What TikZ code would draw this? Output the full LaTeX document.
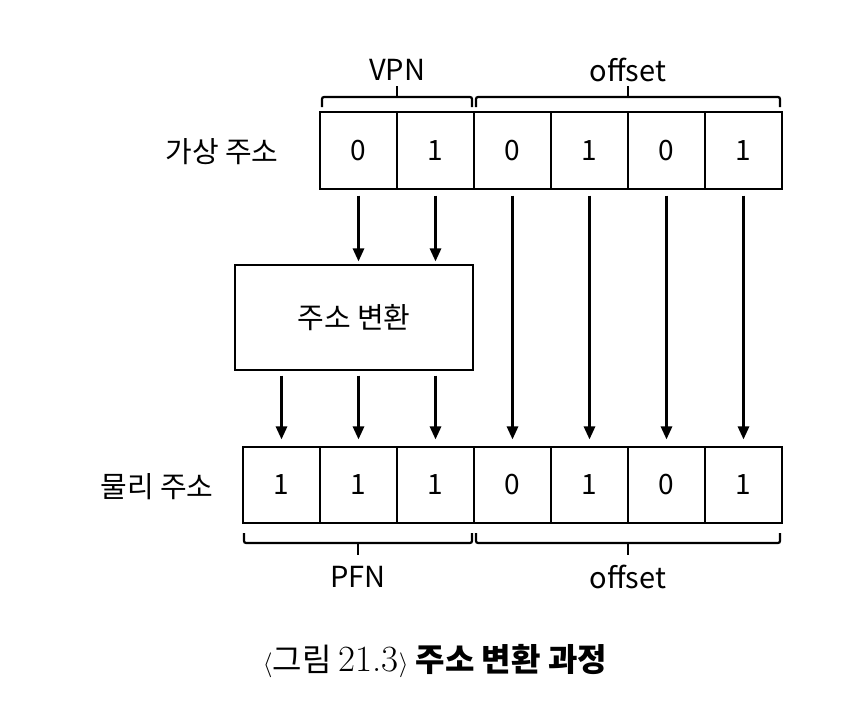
\documentclass[tikz,border=0pt]{standalone}
\usepackage{fontspec}
\setmainfont{Noto Sans CJK KR}
\newfontfamily\capfont{Noto Sans CJK KR}
\newfontfamily\lmfont{Latin Modern Roman}
\usetikzlibrary{arrows.meta}
\begin{document}
\begin{tikzpicture}[x=1pt,y=-1pt,
  cell/.style={draw,line width=1.1pt,minimum width=77pt,minimum height=77pt,inner sep=0pt,font=\fontsize{28}{32}\selectfont},
  lbl/.style={font=\fontsize{29}{33}\selectfont,inner sep=0pt},
  arr/.style={line width=2.8pt,-{Triangle[length=13pt,width=11pt]}},
  brace/.style={line width=2.2pt,rounded corners=2pt}]
\useasboundingbox (0,0) rectangle (851,707);
% virtual address row
\foreach \i/\v [count=\k] in {0/0,1/1,2/0,3/1,4/0,5/1}{
  \node[cell] (v\k) at ({358.5+77*\i},150.5) {\v};
}
% physical address row
\foreach \i/\v [count=\k] in {0/1,1/1,2/1,3/0,4/1,5/0,6/1}{
  \node[cell,minimum height=76pt] (p\k) at ({281.5+77*\i},485) {\v};
}
\node[draw,line width=1.1pt,minimum width=238pt,minimum height=105pt,inner sep=0pt,font=\fontsize{29}{33}\selectfont] (tr) at (354,317.5) {주소 변환};
\node[lbl] (va) at (222,152) {가상 주소};
\node[lbl] (pa) at (157,487) {물리 주소};
% braces top
\draw[brace] (322,107) -- (322,97) -- (472,97) -- (472,107);
\draw[brace] (397,97) -- (397,86);
\draw[brace] (476,107) -- (476,97) -- (780,97) -- (780,107);
\draw[brace] (628,97) -- (628,86);
\node[lbl] (vpn) at (397,70) {VPN};
\node[lbl] (off1) at (628,70) {offset};
% braces bottom
\draw[brace] (244,533) -- (244,543) -- (472,543) -- (472,533);
\draw[brace] (358,543) -- (358,555);
\draw[brace] (476,533) -- (476,543) -- (780,543) -- (780,533);
\draw[brace] (628,543) -- (628,555);
\node[lbl] (pfn) at (358,577) {PFN};
\node[lbl] (off2) at (628,577) {offset};
% arrows
\draw[arr] ([yshift=-6pt]v1.south) -- ([yshift=3pt]v1.south |- tr.north);
\draw[arr] ([yshift=-6pt]v2.south) -- ([yshift=3pt]v2.south |- tr.north);
\foreach \a/\b in {3/4,4/5,5/6,6/7}{
  \draw[arr] ([yshift=-6pt]v\a.south) -- ([yshift=7pt]p\b.north);
}
\foreach \b in {1,2,3}{
  \draw[arr] ([yshift=-5pt]tr.south -| p\b.north) -- ([yshift=7pt]p\b.north);
}
\node[inner sep=0pt] (cap) at (435,661) {\fontsize{32}{36}\selectfont {\fontsize{37}{40}\selectfont$\langle$}\capfont 그림 {\lmfont\fontsize{37}{40}\selectfont 21.3$\rangle$} \capfont\bfseries 주소 변환 과정};
\end{tikzpicture}
\end{document}
